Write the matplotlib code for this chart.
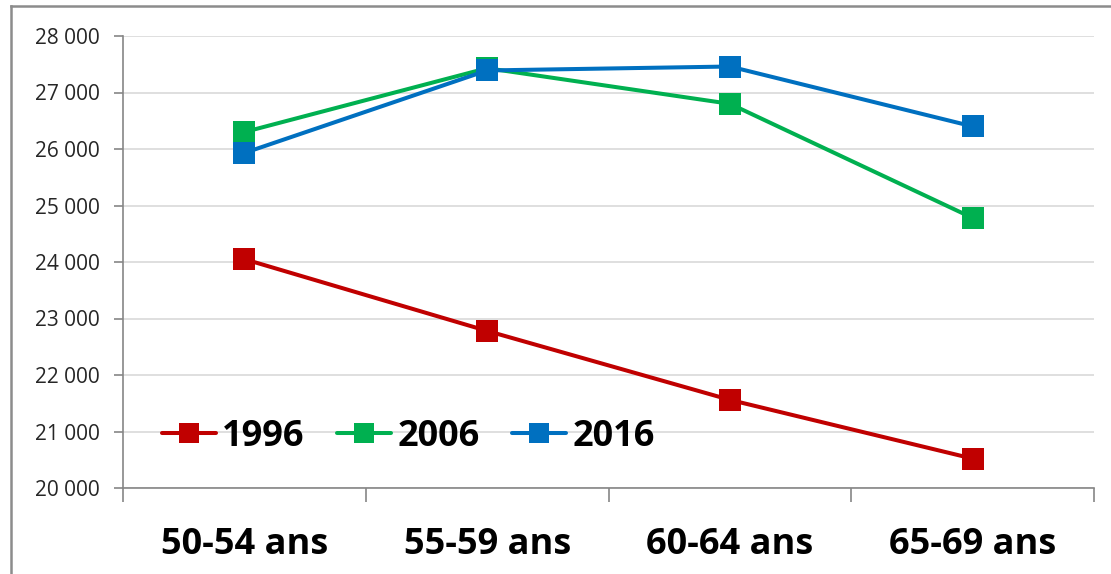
import matplotlib.pyplot as plt
from matplotlib.lines import Line2D
from matplotlib.ticker import FuncFormatter

# Données
categories = ["50-54 ans", "55-59 ans", "60-64 ans", "65-69 ans"]
annees = ["1996", "2006", "2016"]
v1996 = [24050, 22780, 21560, 20520]
v2006 = [26300, 27430, 26800, 24780]
v2016 = [25930, 27390, 27460, 26400]
couleurs = ["#C00000", "#00B050", "#0070C0"]

fig = plt.figure(figsize=(11.11, 5.74), dpi=100)
ax = fig.add_axes([123 / 1111, 1 - 488 / 574, 971 / 1111, 452 / 574])

x = range(len(categories))
for serie, annee, c in zip([v1996, v2006, v2016], annees, couleurs):
    ax.plot(x, serie, color=c, lw=2.9, marker="s", markersize=15.5,
            markeredgewidth=0, label=annee, solid_capstyle="round")

ax.set_xlim(-0.5, 3.5)
ax.set_ylim(20000, 28000)
ax.set_yticks(range(20000, 28001, 1000))
ax.yaxis.set_major_formatter(FuncFormatter(lambda v, p: f"{int(v):,}".replace(",", " ")))
ax.grid(axis="y", color="#D9D9D9", lw=1.2)
ax.set_axisbelow(True)

# étiquettes des catégories au centre, graduations entre les catégories
ax.set_xticks(list(x))
ax.set_xticklabels(categories, fontfamily="Open Sans", fontweight="bold", fontsize=26)
ax.set_xticks([-0.5, 0.5, 1.5, 2.5, 3.5], minor=True)
ax.tick_params(axis="x", which="major", length=0, pad=28)
ax.tick_params(axis="x", which="minor", length=10, width=1.2, color="#868686")
ax.tick_params(axis="y", length=6.5, width=1.2, color="#868686", labelsize=15, pad=10)
for lab in ax.get_yticklabels():
    lab.set_fontfamily("Open Sans")
    lab.set_color("#262626")

for s in ["top", "right"]:
    ax.spines[s].set_visible(False)
for s in ["left", "bottom"]:
    ax.spines[s].set_color("#868686")
    ax.spines[s].set_linewidth(1.2)
ax.spines["left"].set_bounds(20000, 28000)

leg = ax.legend(loc="center left", bbox_to_anchor=(0.040, 0.113), ncol=3, frameon=False,
                prop={"family": "Open Sans", "weight": "bold", "size": 26},
                handlelength=1.5, handletextpad=0.17, columnspacing=0.9,
                borderpad=0, borderaxespad=0, markerscale=0.9)

# cadre gris autour du graphique
fig.add_artist(Line2D([11 / 1111, 11 / 1111], [0, 1 - 6 / 574], color="#8C8C8C", lw=1.8))
fig.add_artist(Line2D([11 / 1111, 1], [1 - 6 / 574, 1 - 6 / 574], color="#8C8C8C", lw=1.8))

fig.savefig("out.png", dpi=100)
